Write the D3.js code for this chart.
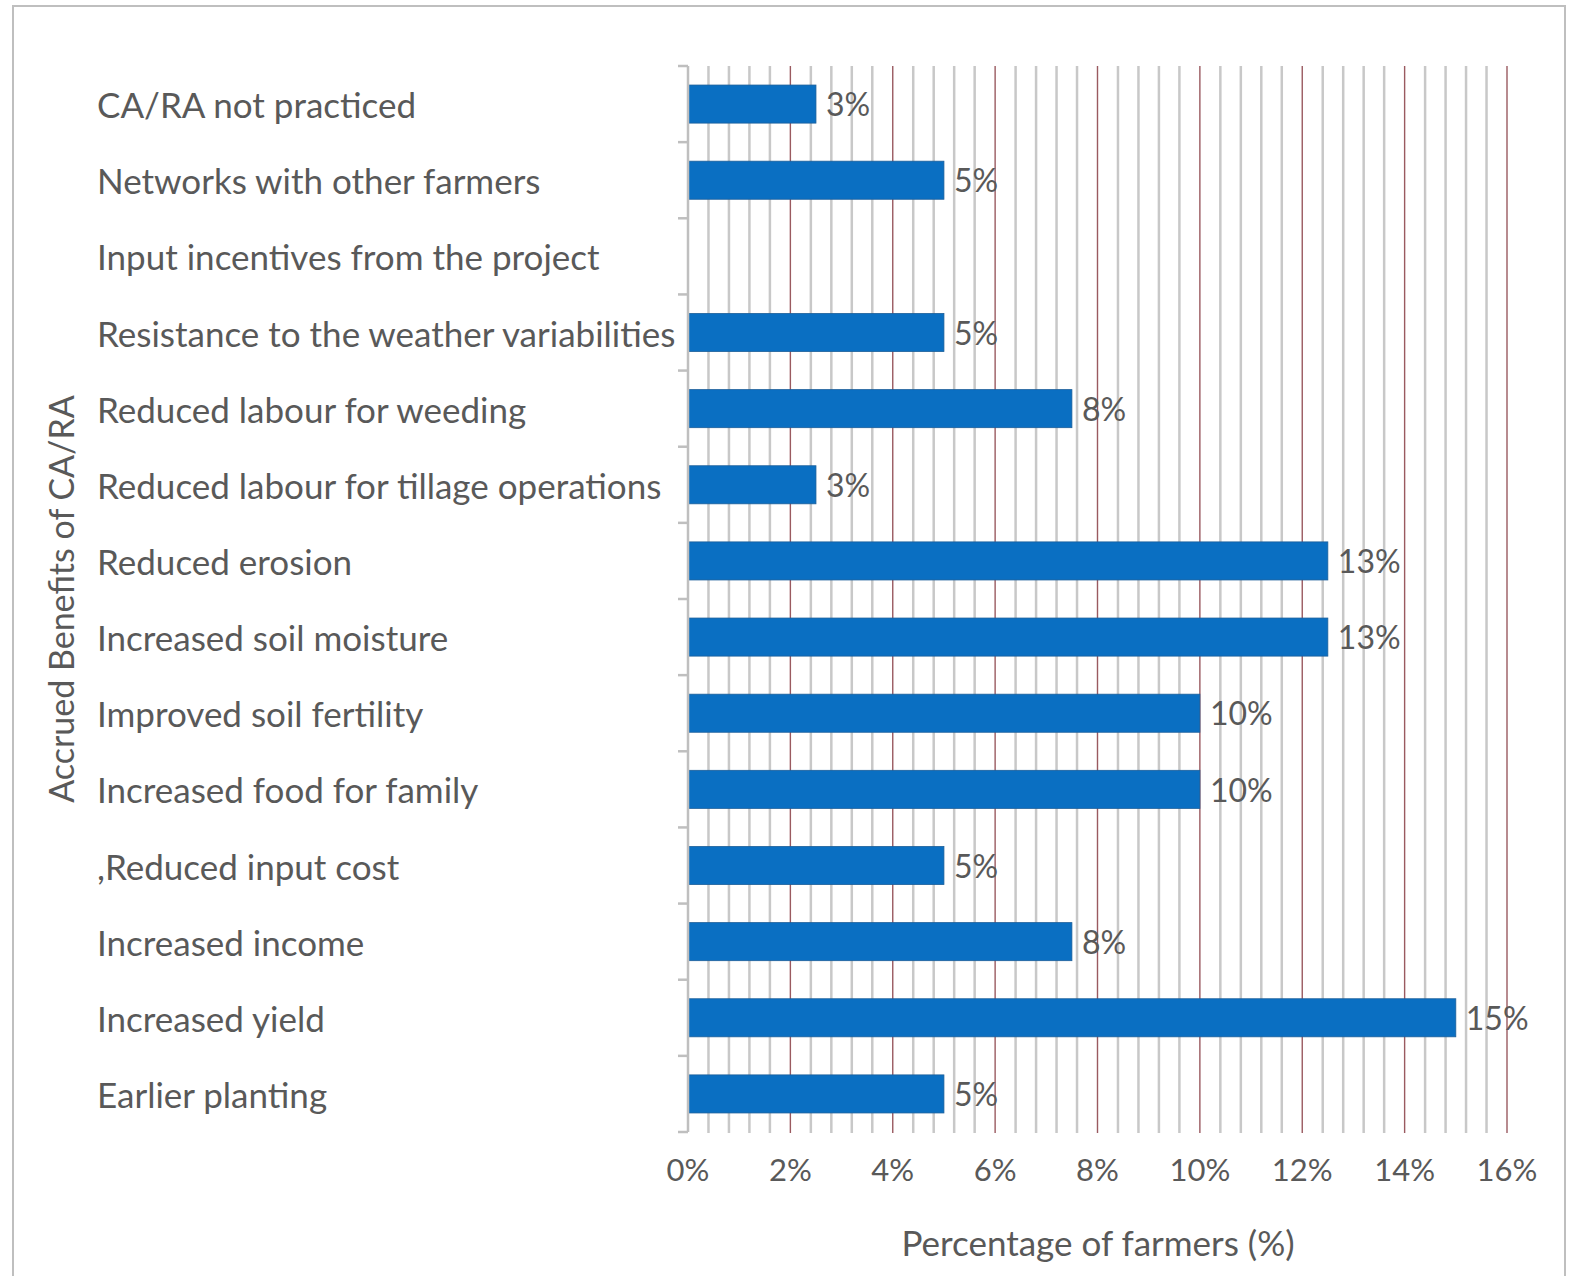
<!DOCTYPE html>
<html>
<head>
<meta charset="utf-8">
<script src="https://cdn.jsdelivr.net/npm/d3@7"></script>
<style>
  html, body { margin: 0; padding: 0; background: #fff; }
  svg { display: block; }
  text { font-family: Lato, "Open Sans", sans-serif; fill: #595959; }
</style>
</head>
<body>
<svg id="chart" width="1570" height="1276"></svg>
<script>
// Accrued benefits of CA/RA, listed top to bottom
const categories = [
  "CA/RA not practiced",
  "Networks with other farmers",
  "Input incentives from the project",
  "Resistance to the weather variabilities",
  "Reduced labour for weeding",
  "Reduced labour for tillage operations",
  "Reduced erosion",
  "Increased soil moisture",
  "Improved soil fertility",
  "Increased food for family",
  ",Reduced input cost",
  "Increased income",
  "Increased yield",
  "Earlier planting"
];
// Share of farmers (%) for each benefit
const values = [2.5, 5, 0, 5, 7.5, 2.5, 12.5, 12.5, 10, 10, 5, 7.5, 15, 5];
// Axis tick labels (%)
const xTicks = [0, 2, 4, 6, 8, 10, 12, 14, 16];

const svg = d3.select("#chart");

// outer frame
svg.append("rect")
  .attr("x", 13).attr("y", 6)
  .attr("width", 1552).attr("height", 1290)
  .attr("fill", "none").attr("stroke", "#bfbfbf").attr("stroke-width", 2);

const plot = { left: 688, right: 1507, top: 66, bottom: 1132 };

const x = d3.scaleLinear().domain([0, 16]).range([plot.left, plot.right]);
const y = d3.scaleBand().domain(categories).range([plot.top, plot.bottom]).paddingInner(0.5).paddingOuter(0.25);

// minor gridlines every 0.4%
const minor = d3.range(0, 41).map(i => i * 0.4).filter(v => Math.abs(v / 2 - Math.round(v / 2)) > 1e-6);
svg.append("g").selectAll("line").data(minor).join("line")
  .attr("x1", d => x(d)).attr("x2", d => x(d))
  .attr("y1", plot.top).attr("y2", plot.bottom + 1)
  .attr("stroke", "#c8c8c8").attr("stroke-width", 2.5);

// major gridlines every 2%
svg.append("g").selectAll("line").data(xTicks.filter(d => d > 0)).join("line")
  .attr("x1", d => x(d)).attr("x2", d => x(d))
  .attr("y1", plot.top).attr("y2", plot.bottom + 1)
  .attr("stroke", "#9a5a60").attr("stroke-width", 1.4);

// bars
svg.append("g").selectAll("rect").data(values).join("rect")
  .attr("x", x(0))
  .attr("y", (d, i) => y(categories[i]))
  .attr("width", d => x(d) - x(0))
  .attr("height", y.bandwidth())
  .attr("fill", "#0a6fc2")
  .attr("stroke", d => d > 0 ? "#1c5f9a" : "none")
  .attr("stroke-width", 0.8);

// value labels
svg.append("g").selectAll("text").data(values.map((v, i) => ({ v, c: categories[i] })).filter(d => d.v > 0)).join("text")
  .attr("x", d => x(d.v) + 10)
  .attr("y", d => y(d.c) + y.bandwidth() / 2)
  .attr("dy", "0.38em")
  .attr("font-size", 32)
  .text(d => Math.round(d.v) + "%");

// y axis: line plus ticks between categories
const yAxis = svg.append("g");
yAxis.append("line")
  .attr("x1", plot.left).attr("x2", plot.left)
  .attr("y1", plot.top).attr("y2", plot.bottom)
  .attr("stroke", "#bfbfbf").attr("stroke-width", 2.5);
yAxis.selectAll("line.tk").data(d3.range(categories.length + 1)).join("line")
  .attr("class", "tk")
  .attr("x1", plot.left - 10).attr("x2", plot.left)
  .attr("y1", i => plot.top + i * (plot.bottom - plot.top) / categories.length)
  .attr("y2", i => plot.top + i * (plot.bottom - plot.top) / categories.length)
  .attr("stroke", "#bfbfbf").attr("stroke-width", 2.5);

// category labels
svg.append("g").selectAll("text").data(categories).join("text")
  .attr("x", 97)
  .attr("y", d => y(d) + y.bandwidth() / 2)
  .attr("dy", "0.4em")
  .attr("font-size", 35)
  .text(d => d);

// x tick labels
svg.append("g").selectAll("text").data(xTicks).join("text")
  .attr("x", d => x(d))
  .attr("y", 1170)
  .attr("dy", "0.36em")
  .attr("text-anchor", "middle")
  .attr("font-size", 31)
  .text(d => d + "%");

// axis titles
svg.append("text")
  .attr("x", 1098).attr("y", 1243)
  .attr("dy", "0.36em")
  .attr("text-anchor", "middle")
  .attr("font-size", 35)
  .text("Percentage of farmers (%)");

svg.append("text")
  .attr("transform", "translate(62,599) rotate(-90)")
  .attr("dy", "0.36em")
  .attr("text-anchor", "middle")
  .attr("font-size", 34)
  .text("Accrued Benefits of CA/RA");
</script>
</body>
</html>
